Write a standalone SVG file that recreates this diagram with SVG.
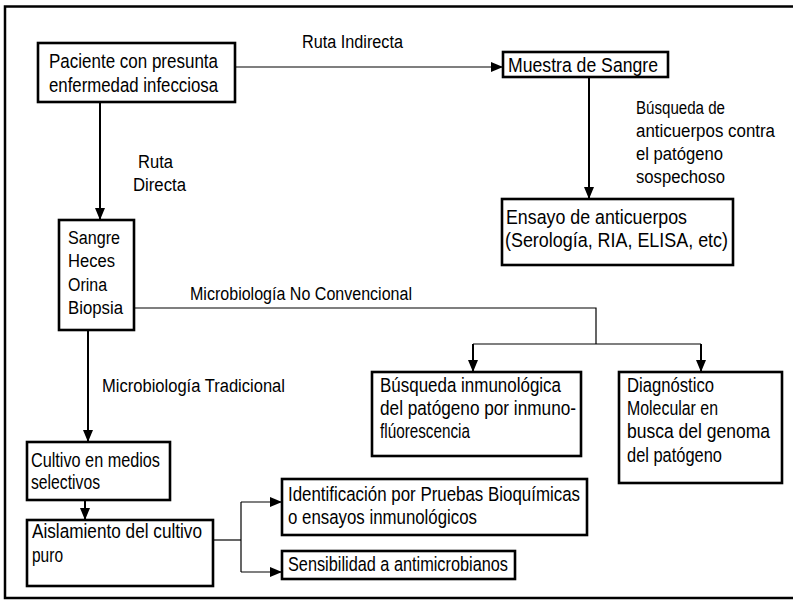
<svg xmlns="http://www.w3.org/2000/svg" width="793" height="612" viewBox="0 0 793 612">
<style>
text{font-family:"Liberation Sans",Arial,sans-serif;fill:#000;}
.t{font-size:20.5px;}
.s{font-size:18px;}
.box{fill:#fff;stroke:#000;stroke-width:2.6;}
.c1{fill:none;stroke:#000;stroke-width:1.2;}
.c2{fill:none;stroke:#000;stroke-width:2;}
</style>
<defs>
<marker id="ah" markerUnits="userSpaceOnUse" markerWidth="12" markerHeight="10" refX="12" refY="5" orient="auto">
<path d="M0,0 L12,5 L0,10 z" fill="#000"/>
</marker>
</defs>
<rect x="0" y="0" width="793" height="612" fill="#fff"/>
<g id="frame" fill="none" stroke="#000" stroke-width="2.5">
<path d="M793,6.5 L5,6.5 L5,598 L793,598"/>
</g>
<g id="connectors">
<path class="c1" d="M235,67 L503,67" marker-end="url(#ah)"/>
<path class="c2" d="M100,102 L100,220" marker-end="url(#ah)"/>
<path class="c2" d="M589,77 L589,199" marker-end="url(#ah)"/>
<path class="c1" d="M134,308 L596,308 L596,344"/>
<path class="c1" d="M473,344 L701,344"/>
<path class="c2" d="M473,344 L473,372" marker-end="url(#ah)"/>
<path class="c2" d="M701,344 L701,372" marker-end="url(#ah)"/>
<path class="c2" d="M88,330 L88,442" marker-end="url(#ah)"/>
<path class="c2" d="M85,500 L85,520" marker-end="url(#ah)"/>
<path class="c1" d="M213,540 L241,540"/>
<path class="c1" d="M241,502 L241,572"/>
<path class="c1" d="M241,502 L282,502" marker-end="url(#ah)"/>
<path class="c1" d="M241,572 L282,572" marker-end="url(#ah)"/>
</g>
<g id="labels">
<text class="s" x="302" y="48" textLength="101" lengthAdjust="spacingAndGlyphs">Ruta Indirecta</text>
<text class="s" x="138" y="168" textLength="35" lengthAdjust="spacingAndGlyphs">Ruta</text>
<text class="s" x="133" y="191" textLength="53" lengthAdjust="spacingAndGlyphs">Directa</text>
<text class="s" x="636" y="114" textLength="89" lengthAdjust="spacingAndGlyphs">Búsqueda de</text>
<text class="s" x="636" y="137" textLength="139" lengthAdjust="spacingAndGlyphs">anticuerpos contra</text>
<text class="s" x="636" y="160" textLength="87" lengthAdjust="spacingAndGlyphs">el patógeno</text>
<text class="s" x="636" y="183" textLength="89" lengthAdjust="spacingAndGlyphs">sospechoso</text>
<text class="s" x="190" y="300" textLength="222" lengthAdjust="spacingAndGlyphs">Microbiología No Convencional</text>
<text class="s" x="102" y="392" textLength="183" lengthAdjust="spacingAndGlyphs">Microbiología Tradicional</text>
</g>
<g id="paciente">
<rect class="box" x="38" y="43" width="197" height="59"/>
<text class="t" x="49" y="68" textLength="169" lengthAdjust="spacingAndGlyphs">Paciente con presunta</text>
<text class="t" x="49" y="92" textLength="169" lengthAdjust="spacingAndGlyphs">enfermedad infecciosa</text>
</g>
<g id="muestra">
<rect class="box" x="503" y="52" width="165" height="25"/>
<text class="t" x="508" y="72" textLength="150" lengthAdjust="spacingAndGlyphs">Muestra de Sangre</text>
</g>
<g id="ensayo">
<rect class="box" x="502" y="199" width="231" height="66"/>
<text class="t" x="506" y="224" textLength="181" lengthAdjust="spacingAndGlyphs">Ensayo de anticuerpos</text>
<text class="t" x="505" y="247" textLength="223" lengthAdjust="spacingAndGlyphs">(Serología, RIA, ELISA, etc)</text>
</g>
<g id="muestras">
<rect class="box" x="59" y="220" width="75" height="110"/>
<text class="s" x="68" y="244" textLength="52" lengthAdjust="spacingAndGlyphs">Sangre</text>
<text class="s" x="68" y="267" textLength="47" lengthAdjust="spacingAndGlyphs">Heces</text>
<text class="s" x="68" y="291" textLength="39" lengthAdjust="spacingAndGlyphs">Orina</text>
<text class="s" x="68" y="314" textLength="55" lengthAdjust="spacingAndGlyphs">Biopsia</text>
</g>
<g id="inmuno">
<rect class="box" x="372" y="372" width="209" height="84"/>
<text class="t" x="380" y="392" textLength="181" lengthAdjust="spacingAndGlyphs">Búsqueda inmunológica</text>
<text class="t" x="380" y="415" textLength="196" lengthAdjust="spacingAndGlyphs">del patógeno por inmuno-</text>
<text class="t" x="380" y="438" textLength="90" lengthAdjust="spacingAndGlyphs">flúorescencia</text>
</g>
<g id="molecular">
<rect class="box" x="619" y="372" width="163" height="111"/>
<text class="t" x="627" y="392" textLength="87" lengthAdjust="spacingAndGlyphs">Diagnóstico</text>
<text class="t" x="627" y="415" textLength="91" lengthAdjust="spacingAndGlyphs">Molecular en</text>
<text class="t" x="627" y="438" textLength="143" lengthAdjust="spacingAndGlyphs">busca del genoma</text>
<text class="t" x="627" y="462" textLength="95" lengthAdjust="spacingAndGlyphs">del patógeno</text>
</g>
<g id="cultivo">
<rect class="box" x="27" y="442" width="143" height="58"/>
<text class="t" x="31" y="467" textLength="129" lengthAdjust="spacingAndGlyphs">Cultivo en medios</text>
<text class="t" x="31" y="489" textLength="69" lengthAdjust="spacingAndGlyphs">selectivos</text>
</g>
<g id="aislamiento">
<rect class="box" x="27" y="520" width="186" height="66"/>
<text class="t" x="32" y="538" textLength="170" lengthAdjust="spacingAndGlyphs">Aislamiento del cultivo</text>
<text class="t" x="32" y="562" textLength="31" lengthAdjust="spacingAndGlyphs">puro</text>
</g>
<g id="identificacion">
<rect class="box" x="282" y="479" width="305" height="56"/>
<text class="t" x="288" y="501" textLength="292" lengthAdjust="spacingAndGlyphs">Identificación por Pruebas Bioquímicas</text>
<text class="t" x="288" y="524" textLength="189" lengthAdjust="spacingAndGlyphs">o ensayos inmunológicos</text>
</g>
<g id="sensibilidad">
<rect class="box" x="282" y="551" width="233" height="28"/>
<text class="t" x="288" y="571" textLength="220" lengthAdjust="spacingAndGlyphs">Sensibilidad a antimicrobianos</text>
</g>
</svg>
